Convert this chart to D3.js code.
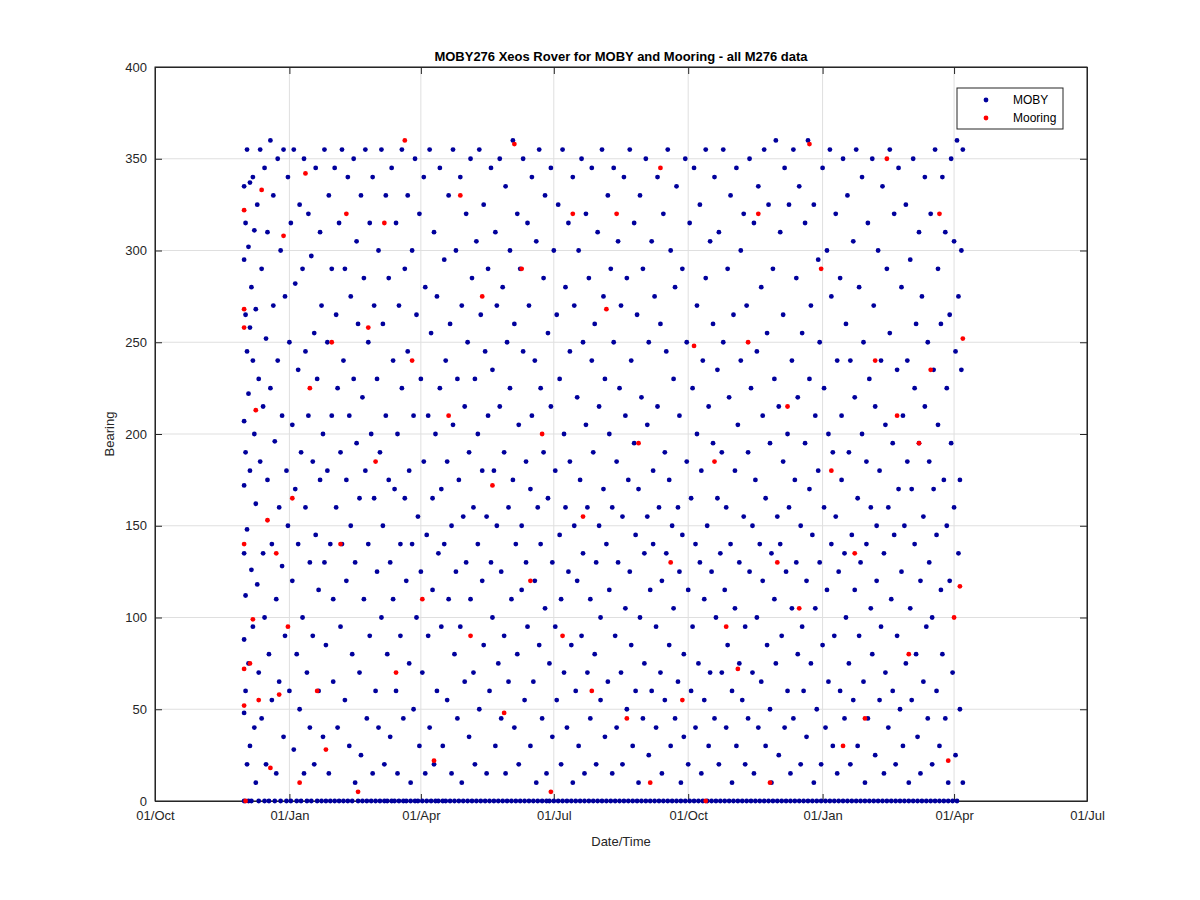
<!DOCTYPE html>
<html><head><meta charset="utf-8">
<script src="https://cdn.jsdelivr.net/npm/d3@7"></script>
<style>
body{margin:0;background:#fff;font-family:"Liberation Sans",Arial,sans-serif;}
.grid line{stroke:#dfdfdf;}
.axis text{font-size:13px;fill:#262626;}
.axis path,.axis line{stroke:#262626;}
</style></head><body>
<div id="chart"></div>
<script>
// days after 2016-12-01, bearing (deg)
var mobyPoints = [
[0,335],[0,295],[0,207],[0,172],[0,135],[0,88],[0,48],[0,0],[1,315],[1,265],[1,190],[1,112],[1,60],[2,355],[2,245],[2,148],[2,20],[3,302],[3,222],[3,75],[3,0],[4,337],[4,258],[4,180],[4,30],[5,280],[5,126],[5,0],[6,340],[6,240],[6,95],[7,311],[7,200],[7,40],[8,268],[8,162],[8,10],[9,325],[9,118],[10,230],[10,70],[10,0],[11,355],[11,185],[12,290],[12,45],[13,215],[13,135],[14,345],[14,100],[14,0],[15,252],[15,20],[16,310],[16,175],[17,80],[17,0],[18,360],[18,225],[19,140],[19,55],[20,330],[20,270],[21,196],[21,0],[22,110],[22,15],[23,350],[23,240],[24,160],[24,65],[25,300],[25,0],[26,210],[26,128],[27,355],[27,35],[28,275],[28,90],[29,180],[29,0],[30,340],[30,150],[31,250],[31,60],[32,315],[32,0],[33,205],[33,120],[34,355],[34,28],[35,282],[35,170],[36,80],[36,0],[37,235],[37,140],[38,325],[38,50],[39,190],[39,0],[40,290],[40,100],[41,350],[41,15],[42,245],[42,160],[43,70],[43,0],[44,320],[44,210],[45,130],[45,40],[46,297],[46,0],[47,185],[47,90],[48,255],[48,20],[49,345],[49,145],[50,230],[50,0],[51,115],[51,60],[52,310],[52,175],[53,270],[53,0],[54,200],[54,35],[55,355],[55,130],[56,85],[56,0],[57,250],[57,180],[58,330],[58,15],[59,140],[59,0],[60,290],[60,210],[61,65],[61,110],[62,345],[62,0],[63,265],[63,160],[64,40],[64,225],[65,315],[65,0],[66,190],[66,95],[67,355],[67,140],[68,240],[68,0],[69,290],[69,55],[70,175],[70,120],[71,340],[71,0],[72,210],[72,30],[73,275],[73,150],[74,80],[74,0],[75,350],[75,230],[76,130],[76,10],[77,305],[77,195],[78,260],[78,0],[79,165],[79,70],[80,330],[80,25],[81,220],[81,0],[82,285],[82,110],[83,355],[83,180],[84,45],[84,0],[85,250],[85,140],[86,315],[86,90],[87,200],[87,0],[88,340],[88,15],[89,270],[89,165],[90,60],[90,0],[91,125],[91,230],[92,300],[92,40],[93,190],[93,0],[94,355],[94,100],[95,260],[95,150],[96,20],[96,0],[97,330],[97,210],[98,80],[98,0],[99,175],[99,285],[100,130],[100,35],[101,345],[101,0],[102,240],[102,110],[103,170],[103,0],[104,315],[104,60],[105,200],[105,15],[106,270],[106,0],[107,140],[107,90],[108,355],[108,225],[109,45],[109,0],[110,290],[110,165],[111,120],[111,0],[112,330],[112,245],[113,75],[113,180],[114,10],[114,0],[115,300],[115,140],[116,210],[116,50],[117,350],[117,0],[118,265],[118,100],[119,155],[119,0],[120,320],[120,30],[121,230],[121,125],[122,70],[122,0],[123,340],[123,185],[124,280],[124,15],[125,145],[125,0],[126,210],[126,90],[127,355],[127,40],[128,255],[128,0],[129,165],[129,115],[130,310],[130,20],[131,200],[131,0],[132,275],[132,60],[133,135],[133,0],[134,345],[134,225],[135,95],[135,170],[136,30],[136,0],[137,295],[137,140],[138,240],[138,0],[139,55],[139,185],[140,330],[140,110],[141,260],[141,0],[142,150],[142,15],[143,355],[143,205],[144,80],[144,0],[145,300],[145,125],[146,230],[146,45],[147,175],[147,0],[148,340],[148,95],[149,270],[149,10],[150,155],[150,0],[151,215],[151,65],[152,320],[152,130],[153,250],[153,0],[154,35],[154,190],[155,350],[155,110],[156,285],[156,0],[157,160],[157,70],[158,230],[158,20],[159,305],[159,0],[160,140],[160,200],[161,355],[161,50],[162,265],[162,0],[163,120],[163,180],[164,325],[164,85],[165,245],[165,0],[166,15],[166,155],[167,290],[167,210],[168,60],[168,0],[169,345],[169,130],[170,235],[170,100],[171,180],[171,0],[172,310],[172,30],[173,270],[173,150],[174,75],[174,0],[175,350],[175,215],[176,125],[176,45],[177,280],[177,0],[178,190],[178,90],[179,335],[179,15],[180,250],[180,0],[181,160],[181,65],[182,300],[182,225],[183,110],[183,0],[184,360],[184,175],[185,40],[185,260],[186,140],[186,0],[187,320],[187,80],[188,205],[188,20],[189,290],[189,0],[190,150],[190,115],[191,350],[191,245],[192,55],[192,0],[193,185],[193,130],[194,315],[194,95],[195,270],[195,0],[196,30],[196,170],[197,340],[197,210],[198,65],[198,0],[199,240],[199,120],[200,305],[200,10],[201,160],[201,0],[202,355],[202,85],[203,225],[203,140],[204,45],[204,0],[205,285],[205,190],[206,330],[206,105],[207,15],[207,0],[208,255],[208,165],[209,75],[209,0],[210,345],[210,215],[211,130],[211,35],[212,300],[212,0],[213,180],[213,95],[214,265],[214,55],[215,325],[215,0],[216,145],[216,230],[217,20],[217,110],[218,355],[218,0],[219,200],[219,70],[220,280],[220,160],[221,40],[221,0],[222,315],[222,125],[223,245],[223,185],[224,85],[224,0],[225,340],[225,10],[226,270],[226,150],[227,60],[227,0],[228,220],[228,120],[229,300],[229,30],[230,175],[230,0],[231,350],[231,90],[232,250],[232,135],[233,15],[233,0],[234,320],[234,205],[235,70],[235,160],[236,285],[236,0],[237,110],[237,45],[238,345],[238,240],[239,190],[239,0],[240,260],[240,80],[241,130],[241,20],[242,310],[242,0],[243,215],[243,150],[244,55],[244,100],[245,355],[245,0],[246,275],[246,170],[247,35],[247,230],[248,140],[248,0],[249,330],[249,65],[250,200],[250,115],[251,290],[251,0],[252,15],[252,160],[253,345],[253,250],[254,90],[254,0],[255,185],[255,40],[256,305],[256,130],[257,225],[257,0],[258,70],[258,270],[259,155],[259,20],[260,340],[260,0],[261,105],[261,210],[262,285],[262,50],[263,175],[263,0],[264,355],[264,125],[265,240],[265,85],[266,30],[266,0],[267,315],[267,195],[268,145],[268,60],[269,265],[269,0],[270,10],[270,170],[271,330],[271,100],[272,220],[272,0],[273,45],[273,290],[274,135],[274,75],[275,350],[275,0],[276,205],[276,155],[277,25],[277,250],[278,115],[278,0],[279,305],[279,60],[280,180],[280,140],[281,275],[281,0],[282,40],[282,95],[283,340],[283,215],[284,160],[284,0],[285,70],[285,260],[286,120],[286,15],[287,320],[287,0],[288,190],[288,55],[289,245],[289,135],[290,355],[290,0],[291,85],[291,175],[292,300],[292,30],[293,150],[293,0],[294,230],[294,105],[295,45],[295,280],[296,335],[296,0],[297,160],[297,65],[298,210],[298,125],[299,10],[299,0],[300,290],[300,145],[301,80],[301,35],[302,350],[302,0],[303,250],[303,185],[304,115],[304,20],[305,315],[305,0],[306,60],[306,165],[307,225],[307,95],[308,345],[308,0],[309,140],[309,40],[310,270],[310,200],[311,75],[311,0],[312,325],[312,130],[313,180],[313,15],[314,240],[314,0],[315,55],[315,110],[316,355],[316,285],[317,150],[317,0],[318,30],[318,215],[319,305],[319,70],[320,125],[320,0],[321,195],[321,260],[322,340],[322,45],[323,100],[323,0],[324,165],[324,235],[325,20],[325,310],[326,135],[326,0],[327,70],[327,190],[328,355],[328,250],[329,115],[329,0],[330,40],[330,160],[331,290],[331,85],[332,220],[332,0],[333,330],[333,140],[334,10],[334,60],[335,265],[335,0],[336,180],[336,105],[337,345],[337,30],[338,205],[338,0],[339,130],[339,75],[340,300],[340,240],[341,55],[341,0],[342,155],[342,320],[343,20],[343,95],[344,270],[344,0],[345,190],[345,45],[346,350],[346,125],[347,225],[347,0],[348,70],[348,150],[349,315],[349,15],[350,175],[350,0],[351,245],[351,100],[352,40],[352,335],[353,140],[353,0],[354,280],[354,65],[355,210],[355,120],[356,355],[356,0],[357,30],[357,165],[358,255],[358,85],[359,325],[359,0],[360,195],[360,50],[361,135],[361,10],[362,290],[362,0],[363,230],[363,110],[364,360],[364,75],[365,155],[365,0],[366,215],[366,25],[367,310],[367,140],[368,90],[368,0],[369,265],[369,185],[370,40],[370,345],[371,125],[371,0],[372,200],[372,60],[373,325],[373,160],[374,15],[374,0],[375,240],[375,105],[376,355],[376,45],[377,175],[377,0],[378,285],[378,130],[379,80],[379,220],[380,335],[380,0],[381,150],[381,20],[382,255],[382,95],[383,60],[383,0],[384,315],[384,195],[385,120],[385,35],[386,360],[386,0],[387,230],[387,170],[388,75],[388,270],[389,145],[389,0],[390,325],[390,10],[391,210],[391,105],[392,50],[392,0],[393,295],[393,180],[394,130],[394,250],[395,20],[395,0],[396,345],[396,85],[397,160],[397,225],[398,40],[398,0],[399,300],[399,115],[400,200],[400,65],[401,355],[401,0],[402,140],[402,275],[403,30],[403,190],[404,90],[404,0],[405,320],[405,155],[406,240],[406,15],[407,125],[407,0],[408,285],[408,60],[409,175],[409,210],[410,350],[410,0],[411,45],[411,135],[412,260],[412,100],[413,330],[413,0],[414,75],[414,190],[415,20],[415,240],[416,145],[416,0],[417,305],[417,55],[418,220],[418,115],[419,355],[419,0],[420,165],[420,30],[421,280],[421,90],[422,130],[422,0],[423,340],[423,200],[424,65],[424,250],[425,10],[425,0],[426,185],[426,140],[427,315],[427,45],[428,230],[428,0],[429,105],[429,160],[430,350],[430,80],[431,270],[431,0],[432,25],[432,215],[433,150],[433,120],[434,300],[434,0],[435,55],[435,180],[436,240],[436,95],[437,335],[437,0],[438,135],[438,15],[439,205],[439,70],[440,290],[440,0],[441,160],[441,40],[442,355],[442,255],[443,110],[443,0],[444,195],[444,60],[445,320],[445,145],[446,20],[446,0],[447,235],[447,90],[448,345],[448,170],[449,50],[449,0],[450,280],[450,125],[451,210],[451,30],[452,150],[452,0],[453,325],[453,75],[454,240],[454,185],[455,10],[455,0],[456,295],[456,105],[457,170],[457,55],[458,350],[458,0],[459,225],[459,140],[460,80],[460,260],[461,35],[461,0],[462,310],[462,195],[463,120],[463,15],[464,275],[464,0],[465,155],[465,65],[466,340],[466,215],[467,95],[467,0],[468,45],[468,250],[469,185],[469,130],[470,320],[470,0],[471,20],[471,100],[472,235],[472,170],[473,355],[473,0],[474,60],[474,145],[475,290],[475,205],[476,30],[476,0],[477,260],[477,115],[478,340],[478,80],[479,175],[479,0],[480,310],[480,45],[481,225],[481,150],[482,10],[482,0],[483,265],[483,120],[484,350],[484,195],[485,70],[485,0],[486,305],[486,160],[487,245],[487,25],[488,360],[488,0],[489,275],[489,135],[490,175],[490,50],[491,235],[491,300],[492,10],[492,355]
];
var mooringPoints = [
[0,322],[0,268],[0,258],[0,140],[0,72],[0,52],[1,0],[4,75],[6,99],[8,213],[10,55],[12,333],[16,153],[18,18],[22,135],[24,58],[27,308],[30,95],[33,165],[38,10],[42,342],[45,225],[50,60],[56,28],[60,250],[66,140],[70,320],[78,5],[85,258],[90,185],[96,315],[104,70],[110,360],[115,240],[122,110],[130,22],[140,210],[148,330],[155,90],[163,275],[170,172],[178,48],[185,358],[190,290],[196,120],[204,200],[210,5],[218,90],[225,320],[232,155],[238,60],[248,268],[255,320],[262,45],[270,195],[278,10],[285,345],[292,130],[300,55],[308,248],[316,0],[322,185],[330,95],[338,72],[345,250],[352,320],[360,10],[365,130],[372,215],[380,105],[387,358],[395,290],[402,180],[410,30],[418,135],[425,45],[432,240],[440,350],[447,210],[455,80],[462,195],[470,235],[476,320],[482,22],[486,100],[490,117],[492,252]
];
var xTickLabels = ["01/Oct","01/Jan","01/Apr","01/Jul","01/Oct","01/Jan","01/Apr","01/Jul"];
var yTicks = [0,50,100,150,200,250,300,350,400];
var seriesNames = ["MOBY","Mooring"];
var seriesColors = ["#00009c","#ff0000"];

var start = new Date(2016,11,1);
function dayToDate(d){ return d3.timeDay.offset(start, d); }

var margin = {top:67, right:113, bottom:99, left:155};
var W = 1200, H = 900;
var width = W - margin.left - margin.right, height = H - margin.top - margin.bottom;

var svg = d3.select("#chart").append("svg").attr("width", W).attr("height", H);
var g = svg.append("g").attr("transform","translate("+margin.left+","+margin.top+")");

var x = d3.scaleTime().domain([new Date(2016,9,1), new Date(2018,6,1)]).range([0,width]);
var y = d3.scaleLinear().domain([0,400]).range([height,0]);
var xTicks = d3.timeMonth.every(3).range(new Date(2016,9,1), new Date(2018,6,2));

// grid
g.append("g").attr("class","grid").selectAll("line").data(xTicks).enter().append("line")
  .attr("x1",d=>x(d)).attr("x2",d=>x(d)).attr("y1",0).attr("y2",height);
g.append("g").attr("class","grid").selectAll("line").data(yTicks).enter().append("line")
  .attr("y1",d=>y(d)).attr("y2",d=>y(d)).attr("x1",0).attr("x2",width);

g.append("rect").attr("width",width).attr("height",height).attr("fill","none").attr("stroke","#262626");

g.append("g").attr("class","axis").attr("transform","translate(0,"+height+")")
  .call(d3.axisBottom(x).tickValues(xTicks).tickFormat((d,i)=>xTickLabels[i]).tickSizeInner(-7).tickSizeOuter(0).tickPadding(10));
g.append("g").attr("class","axis").call(d3.axisTop(x).tickValues(xTicks).tickFormat("").tickSizeInner(-7).tickSizeOuter(0));
g.append("g").attr("class","axis")
  .call(d3.axisLeft(y).tickValues(yTicks).tickSizeInner(-7).tickSizeOuter(0).tickPadding(8));
g.append("g").attr("class","axis").attr("transform","translate("+width+",0)")
  .call(d3.axisRight(y).tickValues(yTicks).tickFormat("").tickSizeInner(-7).tickSizeOuter(0));

// points
g.append("g").selectAll("circle").data(mobyPoints).enter().append("circle")
  .attr("cx",d=>x(dayToDate(d[0]))).attr("cy",d=>y(d[1])).attr("r",2.4).attr("fill",seriesColors[0]);
g.append("g").selectAll("circle").data(mooringPoints).enter().append("circle")
  .attr("cx",d=>x(dayToDate(d[0]))).attr("cy",d=>y(d[1])).attr("r",2.4).attr("fill",seriesColors[1]);

// labels
svg.append("text").attr("x",margin.left+width/2).attr("y",61).attr("text-anchor","middle")
  .attr("font-size","13px").attr("font-weight","bold").attr("fill","#000")
  .text("MOBY276 Xeos Rover for MOBY and Mooring - all M276 data");
svg.append("text").attr("x",margin.left+width/2).attr("y",846).attr("text-anchor","middle")
  .attr("font-size","13px").attr("fill","#262626").text("Date/Time");
svg.append("text").attr("transform","translate(114,"+(margin.top+height/2)+") rotate(-90)")
  .attr("text-anchor","middle").attr("font-size","13px").attr("fill","#262626").text("Bearing");

// legend
var lg = svg.append("g").attr("transform","translate(957,88)");
lg.append("rect").attr("width",106).attr("height",41).attr("fill","#fff").attr("stroke","#262626");
seriesNames.forEach(function(n,i){
  lg.append("circle").attr("cx",29).attr("cy",12+i*18).attr("r",2.4).attr("fill",seriesColors[i]);
  lg.append("text").attr("x",56).attr("y",16+i*18).attr("font-size","12px").attr("fill","#000").text(n);
});
</script></body></html>
